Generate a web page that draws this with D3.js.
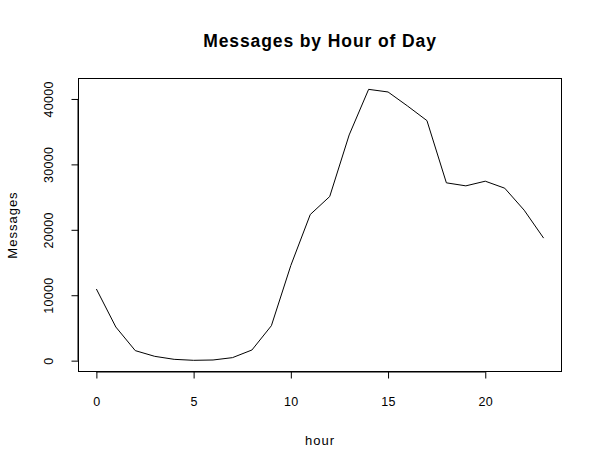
<!DOCTYPE html>
<html><head><meta charset="utf-8">
<script src="https://cdn.jsdelivr.net/npm/d3@7"></script>
<style>body{margin:0;background:#fff}svg{display:block}text{font-family:"Liberation Sans",Arial,sans-serif}</style>
</head><body>
<svg id="c" width="602" height="470"></svg>
<script>
const hours = [0,1,2,3,4,5,6,7,8,9,10,11,12,13,14,15,16,17,18,19,20,21,22,23];
const messages = [10950,5140,1530,660,200,50,100,460,1630,5340,14550,22340,25090,34500,41470,41070,38930,36690,27180,26720,27430,26360,23000,18730];
const xTicks = [0,5,10,15,20];
const yTicks = [0,10000,20000,30000,40000];

const svg = d3.select("#c");
const L = 78.5, R = 561.5, T = 78.5, B = 371.5;
const x = d3.scaleLinear().domain([-0.92, 23.92]).range([L, R]);
const yr = [0, 41470];
const ext = (yr[1]-yr[0])*0.04;
const y = d3.scaleLinear().domain([yr[0]-ext, yr[1]+ext]).range([B, T]);

svg.append("rect").attr("x",L).attr("y",T).attr("width",R-L).attr("height",B-T)
  .attr("fill","none").attr("stroke","#000").attr("stroke-width",1);

const line = d3.line().x((d,i)=>x(hours[i])).y(d=>y(d));
svg.append("path").datum(messages).attr("d",line).attr("fill","none").attr("stroke","#000").attr("stroke-width",1);

const xa = svg.append("g").attr("transform",`translate(0,${B})`)
  .call(d3.axisBottom(x).tickValues(xTicks).tickSize(7).tickPadding(19).tickFormat(d3.format("d")));
xa.select(".domain").attr("d",`M${x(0)},0.5H${x(20)}`);
xa.selectAll("text").attr("font-size","12.5px").attr("letter-spacing","0.3px").attr("font-family","Liberation Sans, Arial, sans-serif");

const ya = svg.append("g").attr("transform",`translate(${L},0)`)
  .call(d3.axisLeft(y).tickValues(yTicks).tickSize(7).tickPadding(0).tickFormat(d3.format("d")));
ya.select(".domain").attr("d",`M-0.5,${y(0)}V${y(40000)}`);
ya.selectAll(".tick text").attr("font-size","12.5px").attr("letter-spacing","0.3px").attr("font-family","Liberation Sans, Arial, sans-serif")
  .attr("text-anchor","middle").attr("x",0).attr("dy",null)
  .attr("transform","translate(-29.5,0) rotate(-90)").attr("dominant-baseline","central");

svg.append("text").attr("x",(L+R)/2).attr("y",46.5).attr("text-anchor","middle")
  .attr("font-weight","bold").attr("font-size","17.5px").attr("letter-spacing","0.9px").text("Messages by Hour of Day");
svg.append("text").attr("x",(L+R)/2).attr("y",445).attr("text-anchor","middle")
  .attr("font-size","13px").attr("letter-spacing","1px").text("hour");
svg.append("text").attr("transform",`translate(16.5,${(T+B)/2}) rotate(-90)`).attr("text-anchor","middle")
  .attr("font-size","13px").attr("letter-spacing","1px").text("Messages");
</script>
</body></html>
